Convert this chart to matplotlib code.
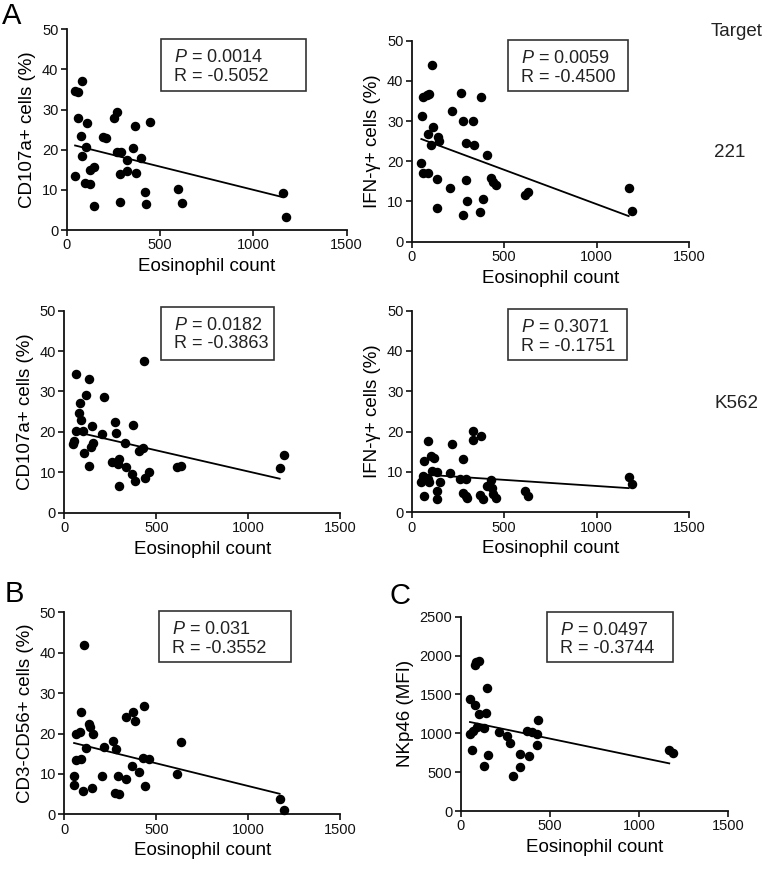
import numpy as np
import matplotlib
matplotlib.use("Agg")
import matplotlib.pyplot as plt
from matplotlib.patches import Rectangle

plt.rcParams['font.family'] = ['Liberation Sans', 'DejaVu Sans']
plt.rcParams['mathtext.fontset'] = 'custom'
plt.rcParams['mathtext.rm'] = 'Liberation Sans'
plt.rcParams['mathtext.it'] = 'Liberation Sans:italic'

# panel A, target 221, CD107a
a1_x = [45, 62, 80, 59, 111, 77, 102, 82, 46, 98, 125, 125, 146, 148, 196, 211,
        255, 268, 271, 289, 286, 286, 325, 325, 364, 357, 373, 398, 446, 420, 423,
        598, 618, 1157, 1175]
a1_y = [34.7, 34.5, 37.2, 28.0, 26.7, 23.3, 20.8, 18.5, 13.5, 11.6, 11.5, 15.0, 15.8,
        6.1, 23.1, 22.8, 27.8, 29.3, 19.4, 19.5, 14.0, 7.1, 17.4, 14.8, 25.9, 20.4,
        14.3, 17.9, 26.9, 9.5, 6.4, 10.1, 6.8, 9.1, 3.3]

# panel A, target 221, IFN-gamma
a2_x = [110, 63, 85, 95, 54, 117, 90, 103, 144, 149, 52, 63, 90, 135, 135, 218, 207,
        265, 279, 292, 293, 297, 275, 333, 337, 374, 383, 369, 405, 429, 441, 455,
        612, 630, 1172, 1192]
a2_y = [43.9, 36.1, 36.5, 36.7, 31.3, 28.5, 26.9, 24.1, 26.0, 25.0, 19.5, 17.2, 17.2,
        15.5, 8.3, 32.4, 13.3, 36.9, 29.9, 24.5, 15.3, 10.0, 6.7, 29.9, 24.1, 36.1,
        10.6, 7.3, 21.5, 15.8, 14.8, 14.1, 11.6, 12.3, 13.3, 7.6]

# panel A, target K562, CD107a
a3_x = [63, 136, 118, 85, 216, 82, 89, 63, 103, 53, 49, 150, 154, 143, 107, 132, 203,
        277, 279, 259, 284, 295, 292, 295, 331, 335, 375, 370, 384, 433, 404, 429,
        440, 462, 610, 632, 1170, 1192]
a3_y = [34.3, 33.0, 29.1, 27.1, 28.7, 24.6, 22.9, 20.2, 20.2, 17.8, 17.0, 21.5, 17.3,
        16.3, 14.9, 11.6, 19.5, 22.4, 19.8, 12.6, 12.6, 13.4, 12.0, 6.6, 17.2, 11.4,
        21.7, 9.7, 7.9, 37.5, 15.3, 16.1, 8.7, 10.1, 11.2, 11.6, 11.1, 14.4]

# panel A, target K562, IFN-gamma
a4_x = [86, 67, 103, 121, 63, 50, 59, 86, 95, 108, 139, 153, 67, 135, 135, 207, 218,
        261, 279, 293, 275, 293, 297, 333, 333, 373, 369, 383, 405, 427, 432, 441,
        456, 612, 630, 1172, 1192]
a4_y = [17.8, 12.6, 14.0, 13.4, 9.0, 7.6, 8.2, 8.2, 7.4, 10.2, 9.9, 7.4, 4.0, 5.3,
        3.2, 9.8, 16.9, 8.2, 13.2, 8.2, 4.7, 4.1, 3.5, 20.2, 17.9, 18.8, 4.3, 3.2,
        6.4, 8.0, 6.0, 4.5, 3.5, 5.3, 4.1, 8.8, 7.0]

# panel B, CD3-CD56+
b_x = [109, 89, 63, 85, 53, 53, 63, 89, 103, 118, 132, 139, 154, 150, 216, 205, 263,
       281, 275, 299, 292, 335, 335, 375, 386, 370, 408, 433, 429, 458, 437, 614,
       634, 1170, 1192]
b_y = [41.9, 25.4, 20.0, 20.5, 9.5, 7.3, 13.4, 13.6, 5.8, 16.5, 22.4, 21.5, 20.0,
       6.6, 16.7, 9.6, 18.2, 16.1, 5.4, 5.0, 9.6, 8.7, 24.0, 25.4, 23.2, 12.0, 10.6,
       26.8, 14.0, 13.7, 7.0, 10.0, 17.8, 3.7, 1.1]

# panel C, NKp46
c_x = [86, 105, 78, 148, 52, 82, 105, 142, 52, 71, 90, 133, 62, 151, 133, 213, 262,
       276, 291, 333, 333, 374, 398, 426, 383, 430, 435, 1169, 1192]
c_y = [1921, 1934, 1878, 1587, 1437, 1364, 1248, 1265, 991, 1033, 1085, 1063, 785,
       720, 583, 1021, 965, 879, 450, 733, 570, 1033, 1021, 991, 708, 849, 1171,
       785, 742]

# regression lines as drawn in the figure (intercept, slope)
fit_intercept = [21.58, 26.42, 20.66, 9.56, 18.25, 1170]
fit_slope = [-0.01157, -0.01711, -0.01046, -0.003047, -0.01125, -0.4763]

ylabels = ['CD107a+ cells (%)', 'IFN-\u03b3+ cells (%)', 'CD107a+ cells (%)',
           'IFN-\u03b3+ cells (%)', 'CD3-CD56+ cells (%)', 'NKp46 (MFI)']
p_values = ['0.0014', '0.0059', '0.0182', '0.3071', '0.031', '0.0497']
r_values = ['-0.5052', '-0.4500', '-0.3863', '-0.1751', '-0.3552', '-0.3744']

# axes rect, y max, stats box (left, right, bottom, top) in axes fraction
panels = [
    (a1_x, a1_y, [0.0873, 0.7353, 0.3665, 0.2310], 50, (0.337, 0.855, 0.694, 0.950)),
    (a2_x, a2_y, [0.5389, 0.7219, 0.3634, 0.2313], 50, (0.348, 0.780, 0.751, 1.003)),
    (a3_x, a3_y, [0.0842, 0.4100, 0.3613, 0.2325], 50, (0.350, 0.761, 0.756, 1.020)),
    (a4_x, a4_y, [0.5389, 0.4105, 0.3634, 0.2320], 50, (0.348, 0.774, 0.755, 1.007)),
    (b_x, b_y, [0.0842, 0.0629, 0.3613, 0.2325], 50, (0.344, 0.820, 0.755, 1.006)),
    (c_x, c_y, [0.6030, 0.0667, 0.3503, 0.2236], 2500, (0.324, 0.795, 0.768, 1.026)),
]

fig = plt.figure(figsize=(7.64, 8.69), dpi=100)

for i, (x, y, pos, ymax, box) in enumerate(panels):
    ax = fig.add_axes(pos)
    x = np.array(x, dtype=float)
    y = np.array(y, dtype=float)
    ax.scatter(x, y, s=34, color='black', zorder=3, clip_on=False)
    xx = np.array([x.min(), np.sort(x)[-2]])
    ax.plot(xx, fit_intercept[i] + fit_slope[i] * xx, color='black', lw=1.3)
    ax.set_xlim(0, 1500)
    ax.set_ylim(0, ymax)
    ax.set_xticks([0, 500, 1000, 1500])
    ax.set_yticks(np.linspace(0, ymax, 6))
    for s in ['top', 'right']:
        ax.spines[s].set_visible(False)
    for s in ['left', 'bottom']:
        ax.spines[s].set_linewidth(1.3)
        ax.spines[s].set_color('#111111')
    ax.tick_params(direction='out', length=4, width=1.2, labelsize=10.5,
                   colors='#111111', pad=2)
    ax.set_xlabel('Eosinophil count', fontsize=13.5, labelpad=4)
    ax.set_ylabel(ylabels[i], fontsize=13.5, labelpad=4)

    # stats box
    bl, br, bb, bt = box
    w_px = pos[2] * 764
    h_px = pos[3] * 869
    ax.add_patch(Rectangle((bl, bb), br - bl, bt - bb, transform=ax.transAxes,
                           fill=False, ec='#333333', lw=1.2, clip_on=False))
    ax.text(bl + 13 / w_px, bt - 10 / h_px,
            '$\\mathit{P}$ = %s\nR = %s' % (p_values[i], r_values[i]),
            transform=ax.transAxes, ha='left', va='top', fontsize=13,
            color='#222222', linespacing=1.12)

fig.text(0.003, 0.998, 'A', fontsize=21, va='top', ha='left')
fig.text(0.006, 0.332, 'B', fontsize=21, va='top', ha='left')
fig.text(0.510, 0.330, 'C', fontsize=21, va='top', ha='left')
fig.text(0.998, 0.964, 'Target', fontsize=13.5, ha='right', va='center', color='#222222')
fig.text(0.976, 0.824, '221', fontsize=13.5, ha='right', va='center', color='#222222')
fig.text(0.993, 0.536, 'K562', fontsize=13.5, ha='right', va='center', color='#222222')

fig.savefig('out.png', dpi=100)
